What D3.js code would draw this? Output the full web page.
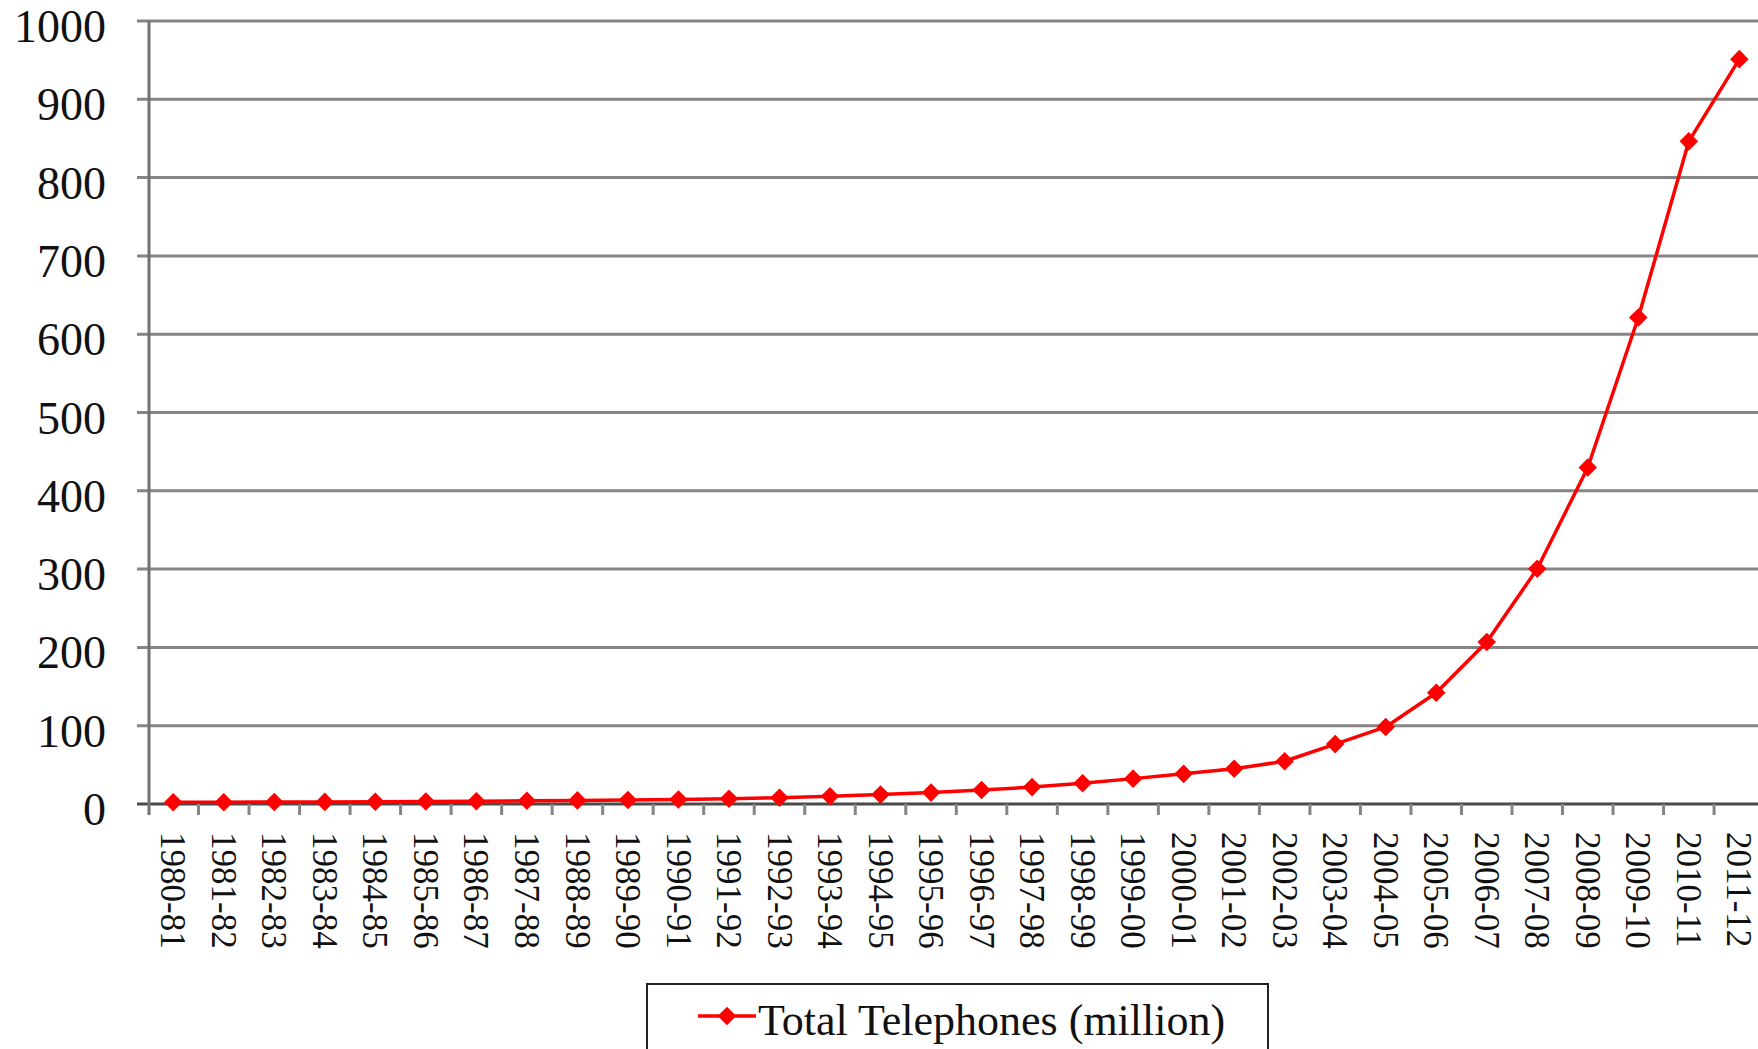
<!DOCTYPE html>
<html>
<head>
<meta charset="utf-8">
<script src="https://cdn.jsdelivr.net/npm/d3@7"></script>
<style>
  html, body { margin: 0; padding: 0; background: #fff; overflow: hidden; }
  svg { display: block; font-family: "Liberation Serif", "Times New Roman", serif; }
</style>
</head>
<body>
<svg id="chart" width="1758" height="1049"></svg>
<script>
const categories = ["1980-81","1981-82","1982-83","1983-84","1984-85","1985-86","1986-87","1987-88",
  "1988-89","1989-90","1990-91","1991-92","1992-93","1993-94","1994-95","1995-96","1996-97",
  "1997-98","1998-99","1999-00","2000-01","2001-02","2002-03","2003-04","2004-05","2005-06",
  "2006-07","2007-08","2008-09","2009-10","2010-11","2011-12"];
const totalTelephones = [2.15, 2.30, 2.47, 2.67, 2.90, 3.17, 3.49, 4.17, 4.59, 5.07, 5.81, 6.80,
  8.03, 9.80, 11.98, 14.54, 17.80, 21.59, 26.5, 32.4, 38.5, 45.0, 54.6, 76.5, 98.4, 142.1,
  206.8, 300.5, 429.7, 621.3, 846.3, 951.3];
const yTicks = [0, 100, 200, 300, 400, 500, 600, 700, 800, 900, 1000];
const seriesName = "Total Telephones (million)";

const svg = d3.select("#chart");
const x = d3.scaleBand().domain(categories).range([148, 1764.6]).paddingInner(0).paddingOuter(0);
const y = d3.scaleLinear().domain([0, 1000]).range([804, 21]);
const cx = d => x(d) + x.bandwidth() / 2;

// gridlines
svg.append("g").selectAll("line").data(yTicks).join("line")
  .attr("x1", 137).attr("x2", 1758)
  .attr("y1", d => y(d)).attr("y2", d => y(d))
  .attr("stroke", d => d === 0 ? "#4a4a4a" : "#858585")
  .attr("stroke-width", 3);

// y axis line
svg.append("line").attr("x1", 149).attr("x2", 149).attr("y1", y(1000)).attr("y2", 815)
  .attr("stroke", "#707070").attr("stroke-width", 3);

// x tick marks at category boundaries
const bounds = categories.map(c => x(c)).slice(1).concat([x(categories[categories.length - 1]) + x.bandwidth()]);
svg.append("g").selectAll("line").data(bounds).join("line")
  .attr("x1", d => d).attr("x2", d => d).attr("y1", 804).attr("y2", 815)
  .attr("stroke", "#858585").attr("stroke-width", 3);

// y tick labels
svg.append("g").selectAll("text").data(yTicks).join("text")
  .attr("x", 106).attr("y", d => y(d) + 21)
  .attr("text-anchor", "end")
  .attr("font-size", 46).attr("fill", "#111")
  .text(d => d);

// x tick labels (rotated, reading top to bottom)
svg.append("g").selectAll("text").data(categories).join("text")
  .attr("transform", d => `translate(${cx(d)},832) rotate(90)`)
  .attr("dy", "0.34em")
  .attr("text-anchor", "start")
  .attr("font-size", 35).attr("fill", "#111")
  .text(d => d);

// line
const line = d3.line().x((d, i) => cx(categories[i])).y(d => y(d));
svg.append("path").datum(totalTelephones)
  .attr("d", line).attr("fill", "none").attr("stroke", "#ff0000").attr("stroke-width", 3.5)
  .attr("stroke-linejoin", "round");

// markers
const diamond = d3.symbol().type(d3.symbolDiamond2).size(220);
svg.append("g").selectAll("path").data(totalTelephones).join("path")
  .attr("d", diamond)
  .attr("transform", (d, i) => `translate(${cx(categories[i])},${y(d)})`)
  .attr("fill", "#ff0000");

// legend
const lg = svg.append("g");
lg.append("rect").attr("x", 647).attr("y", 984).attr("width", 621).attr("height", 120)
  .attr("fill", "#fff").attr("stroke", "#222").attr("stroke-width", 2);
lg.append("line").attr("x1", 698).attr("x2", 756).attr("y1", 1016).attr("y2", 1016)
  .attr("stroke", "#ff0000").attr("stroke-width", 3.5);
lg.append("path").attr("d", diamond).attr("transform", "translate(727,1016)").attr("fill", "#ff0000");
lg.append("text").attr("x", 758).attr("y", 1035).attr("font-size", 44).attr("fill", "#111").text(seriesName);
</script>
</body>
</html>
